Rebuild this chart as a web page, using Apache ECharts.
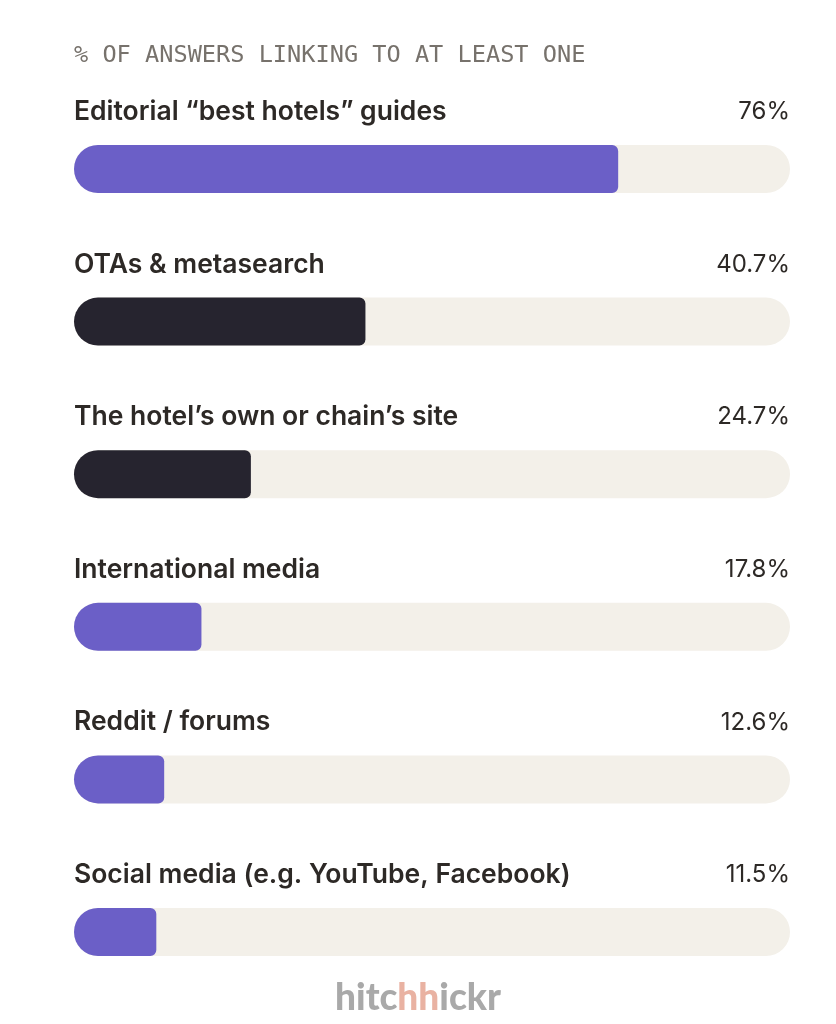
<!DOCTYPE html>
<html>
<head>
<meta charset="utf-8">
<script src="https://cdn.jsdelivr.net/npm/echarts@6/dist/echarts.min.js"></script>
<style>
    html, body { margin: 0; padding: 0; background: #fff; }
    #chart { width: 836px; height: 1024px; }
</style>
</head>
<body>
<div id="chart"></div>
<script>
var categories = ["Editorial “best hotels” guides", "OTAs & metasearch", "The hotel’s own or chain’s site", "International media", "Reddit / forums", "Social media (e.g. YouTube, Facebook)"];
var values = [76, 40.7, 24.7, 17.8, 12.6, 11.5];
var valueLabels = ["76%", "40.7%", "24.7%", "17.8%", "12.6%", "11.5%"];
var barColors = ["#6b5fc7", "#26242f", "#26242f", "#6b5fc7", "#6b5fc7", "#6b5fc7"];
var trackValues = [100, 100, 100, 100, 100, 100];

(function() {
    let myChart = echarts.init(document.getElementById("chart"));
    let option = {
        animation: false,
        title: {
            text: "% OF ANSWERS LINKING TO AT LEAST ONE",
            left: 69,
            top: 39,
            textStyle: {
                fontFamily: "DejaVu Sans Mono",
                fontWeight: "normal",
                fontSize: 23.6,
                color: "#77726c"
            }
        },
        grid: {
            left: 74,
            right: 46,
            top: 92.7,
            bottom: 15.7
        },
        xAxis: {
            type: "value",
            min: 0,
            max: 100,
            show: false
        },
        yAxis: {
            type: "category",
            inverse: true,
            data: categories,
            show: false
        },
        series: [{
            name: "track",
            type: "bar",
            barWidth: 48,
            data: trackValues,
            silent: true,
            itemStyle: {
                color: "#f3f0e9",
                borderRadius: 24
            },
            label: {
                show: true,
                position: "insideLeft",
                distance: 0,
                offset: [0, -57],
                formatter: "{b}",
                fontFamily: "Inter",
                fontWeight: 600,
                fontSize: 26.5,
                color: "#2d2926"
            }
        }, {
            name: "share",
            type: "bar",
            barWidth: 48,
            barGap: "-100%",
            data: values.map(function(v, i) {
                return { value: v, itemStyle: { color: barColors[i] } };
            }),
            itemStyle: {
                borderRadius: [24, 6, 6, 24]
            }
        }, {
            name: "label",
            type: "bar",
            barWidth: 48,
            barGap: "-100%",
            data: trackValues,
            silent: true,
            itemStyle: {
                color: "rgba(0,0,0,0)"
            },
            label: {
                show: true,
                position: "insideRight",
                distance: 0,
                offset: [0, -57],
                formatter: function(p) {
                    return valueLabels[p.dataIndex];
                },
                fontFamily: "Inter",
                fontWeight: "normal",
                fontSize: 24,
                color: "#2d2926"
            }
        }],
        graphic: [{
            type: "text",
            left: "center",
            top: 980,
            style: {
                text: "{g|hitc}{p|hh}{g|ickr}",
                rich: {
                    g: { fontFamily: "Lato", fontWeight: 900, fontSize: 37, fill: "#a9a9a9" },
                    p: { fontFamily: "Lato", fontWeight: 900, fontSize: 37, fill: "#e9b2a2" }
                }
            }
        }]
    };
    myChart.setOption(option);
    window.addEventListener("resize", function() {
        myChart.resize();
    });
})();
</script>
</body>
</html>
